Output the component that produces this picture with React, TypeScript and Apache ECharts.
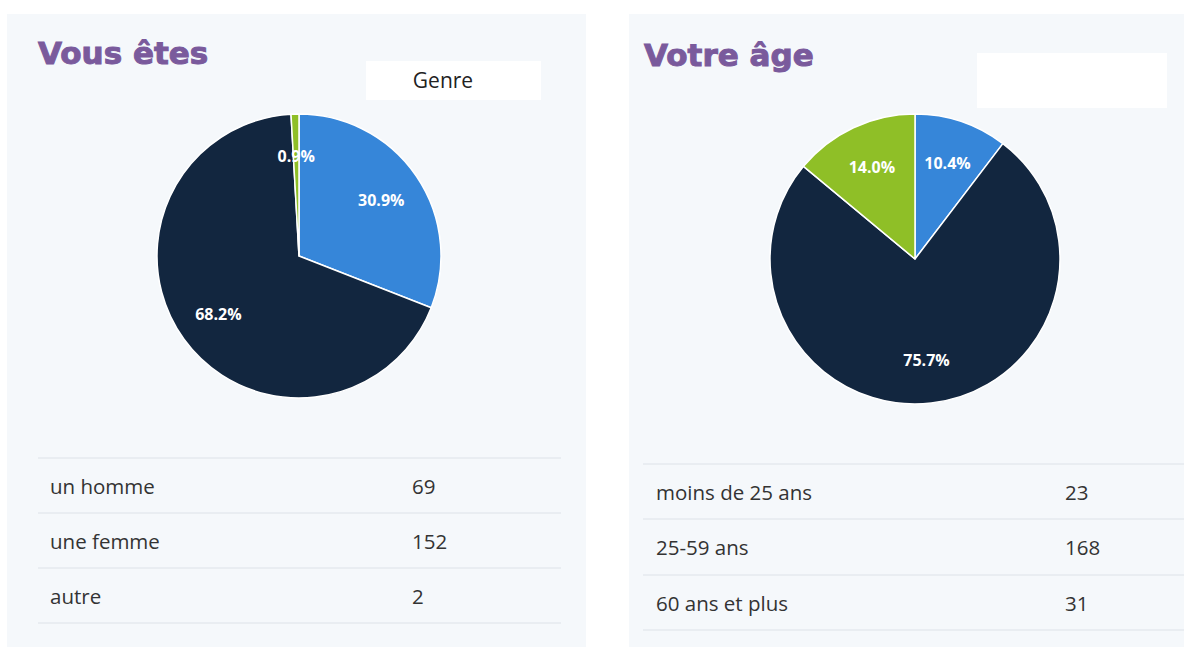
import React, { useEffect, useRef } from "react";
import * as echarts from "echarts";

const genreCategories = ["un homme", "une femme", "autre"];
const genreValues = [69, 152, 2];
const ageCategories = ["moins de 25 ans", "25-59 ans", "60 ans et plus"];
const ageValues = [23, 168, 31];
const sliceColors = ["#3686d9", "#12263f", "#8fbf27"];
const titles = ["Vous êtes", "Votre âge"];
const legendTitle = "Genre";

function pct(values: number[], v: number) {
  const s = values.reduce((a, b) => a + b, 0);
  return ((v / s) * 100).toFixed(1) + "%";
}

function pieSeries(cats: string[], vals: number[], cx: number, cy: number, r: number) {
  const data = cats.map((c, i) => ({ name: c, value: vals[i], itemStyle: { color: sliceColors[i] } }));
  return [
    {
      type: "pie",
      center: [cx, cy],
      radius: [0, r],
      startAngle: 90,
      clockwise: true,
      data,
      label: { show: false },
      labelLine: { show: false },
      itemStyle: { borderColor: "#ffffff", borderWidth: 1.5 },
      emphasis: { disabled: true },
      silent: true,
    },
    {
      type: "pie",
      center: [cx, cy],
      radius: [r * 0.36, r],
      startAngle: 90,
      clockwise: true,
      data: cats.map((c, i) => ({ name: c, value: vals[i] })),
      itemStyle: { color: "rgba(0,0,0,0)", borderWidth: 0 },
      label: {
        show: true,
        position: "inside",
        color: "#ffffff",
        fontFamily: "Open Sans",
        fontWeight: "bold",
        fontSize: 16,
        formatter: (p: any) => pct(vals, p.value),
      },
      labelLine: { show: false },
      emphasis: { disabled: true },
      silent: true,
      z: 3,
    },
  ];
}

function table(cats: string[], vals: number[], x0: number, x1: number, lineYs: number[], labelX: number, valueX: number) {
  const els: any[] = [];
  lineYs.forEach((y) => {
    els.push({ type: "line", shape: { x1: x0, y1: y, x2: x1, y2: y }, style: { stroke: "#dde2e8", lineWidth: 1 }, silent: true });
  });
  cats.forEach((c, i) => {
    const y = (lineYs[i] + lineYs[i + 1]) / 2;
    els.push({ type: "text", x: labelX, y, style: { text: c, fill: "#333333", font: "20.5px 'Open Sans'", textVerticalAlign: "middle", textAlign: "left" } });
    els.push({ type: "text", x: valueX, y, style: { text: String(vals[i]), fill: "#333333", font: "20.5px 'Open Sans'", textVerticalAlign: "middle", textAlign: "left" } });
  });
  return els;
}

const titleStyle = { fill: "#7a5a9c", stroke: "#7a5a9c", lineWidth: 1, font: "bold 31px 'DejaVu Sans'", textVerticalAlign: "middle" };

export default function App() {
  const ref = useRef<HTMLDivElement>(null);
  useEffect(() => {
    if (!ref.current) return;
    const chart = echarts.init(ref.current, undefined, { renderer: "svg" });
    const graphic: any[] = [
      { type: "rect", shape: { x: 7, y: 14, width: 579, height: 633 }, style: { fill: "#f5f8fb" }, z: -10, silent: true },
      { type: "rect", shape: { x: 629, y: 14, width: 555, height: 633 }, style: { fill: "#f5f8fb" }, z: -10, silent: true },
      { type: "text", x: 38, y: 53, style: { text: titles[0], ...titleStyle } },
      { type: "text", x: 644, y: 55, style: { text: titles[1], ...titleStyle } },
      { type: "rect", shape: { x: 366, y: 61, width: 175, height: 39 }, style: { fill: "#ffffff" }, silent: true },
      { type: "text", x: 443, y: 80, style: { text: legendTitle, fill: "#222222", font: "21px 'Open Sans'", textAlign: "center", textVerticalAlign: "middle" } },
      { type: "rect", shape: { x: 977, y: 53, width: 190, height: 55 }, style: { fill: "#ffffff" }, silent: true },
      ...table(genreCategories, genreValues, 38, 561, [458, 513, 568, 623], 50, 412),
      ...table(ageCategories, ageValues, 643, 1184, [464, 519, 575, 630], 656, 1065),
    ];
    chart.setOption({
      animation: false,
      backgroundColor: "#ffffff",
      graphic,
      series: [
        ...pieSeries(genreCategories, genreValues, 299, 256, 142),
        ...pieSeries(ageCategories, ageValues, 915, 259, 145),
      ],
    });
    return () => chart.dispose();
  }, []);
  return <div ref={ref} style={{ position: "fixed", left: 0, top: 0, width: 1184, height: 647 }} />;
}
